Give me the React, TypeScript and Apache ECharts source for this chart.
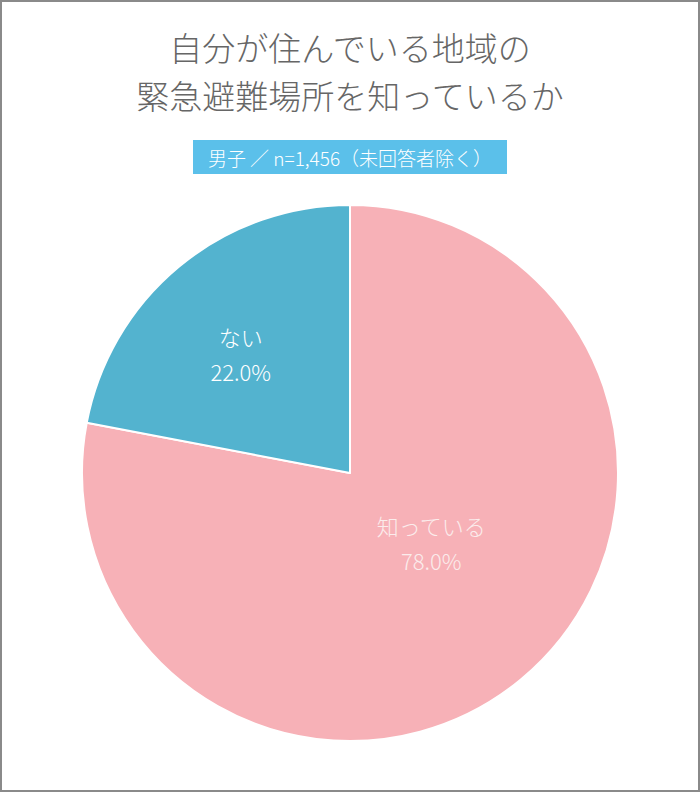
import React, { useEffect, useRef } from "react";
import * as echarts from "echarts";

const titleLines = ["自分が住んでいる地域の", "緊急避難場所を知っているか"];
const subtitle = "男子 ／ n=1,456（未回答者除く）";
const categories = ["知っている", "ない"];
const values = [78.0, 22.0];
const colors = ["#f7b1b7", "#53b3cf"];

export default function App() {
  const ref = useRef<HTMLDivElement>(null);
  useEffect(() => {
    document.body.style.margin = "0";
    const chart = echarts.init(ref.current!, null, { renderer: "svg" });
    const font = "'Noto Sans CJK JP', 'Noto Sans', sans-serif";
    chart.setOption({
      animation: false,
      backgroundColor: "#ffffff",
      title: {
        text: titleLines.join("\n"),
        left: "center",
        top: 18,
        textStyle: {
          fontFamily: font,
          fontSize: 33,
          fontWeight: 300,
          color: "#666666",
          lineHeight: 48,
        },
      },
      graphic: [
        {
          type: "rect",
          shape: { x: 1, y: 1, width: 698, height: 790 },
          style: { fill: "none", stroke: "#8a8a8a", lineWidth: 2 },
          silent: true,
        },
        {
          type: "rect",
          shape: { x: 193, y: 140, width: 314, height: 34 },
          style: { fill: "#5bc0ea" },
          silent: true,
        },
        {
          type: "text",
          x: 350,
          y: 157,
          style: {
            text: subtitle,
            fill: "#ffffff",
            font: `300 19px ${font}`,
            align: "center",
            verticalAlign: "middle",
          },
          silent: true,
        },
      ],
      series: [
        {
          type: "pie",
          center: [350, 473],
          radius: [0, 268],
          startAngle: 90,
          clockwise: true,
          label: {
            show: true,
            position: "inside",
            formatter: (p: any) => `${p.name}\n${p.value.toFixed(1)}%`,
            fontFamily: font,
            fontSize: 22,
            fontWeight: 300,
            lineHeight: 35,
            color: "#ffffff",
          },
          labelLine: { show: false },
          itemStyle: { borderColor: "#ffffff", borderWidth: 2 },
          data: categories.map((name, i) => ({
            name,
            value: values[i],
            itemStyle: { color: colors[i] },
            label: {
              offset: i === 0 ? [-6, -36] : [-22, -14],
              color: i === 0 ? "#fbecec" : "#ffffff",
            },
          })),
        },
      ],
    });
    return () => chart.dispose();
  }, []);
  return <div ref={ref} style={{ width: 700, height: 792 }} />;
}
